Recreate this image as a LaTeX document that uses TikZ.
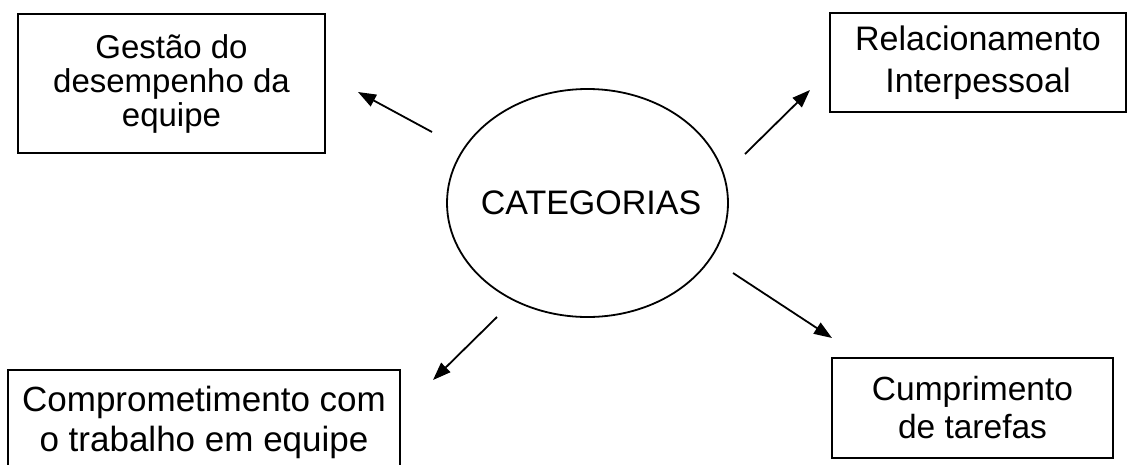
\documentclass[tikz,border=0pt]{standalone}
\usepackage{fontspec}
\setmainfont{Liberation Sans}
\usetikzlibrary{arrows.meta,shapes.geometric}
\tikzset{
  catbox/.style={draw, line width=1.8pt, align=center, inner sep=0pt},
  catarrow/.style={line width=1.8pt, -{Triangle[length=18pt,width=13pt]}},
}
\begin{document}
\begin{tikzpicture}[x=1pt,y=-1pt]
\useasboundingbox (0,0) rectangle (1128,464);
\node[catbox, minimum width=307pt, minimum height=139pt, font=\fontsize{33}{34}\selectfont] (gestao) at (171.5,83.5) {Gestão do\\desempenho da\\equipe};
\node[catbox, minimum width=296pt, minimum height=99pt, font=\fontsize{34}{42}\selectfont] (relac) at (978,62.5) {Relacionamento\\Interpessoal};
\node[catbox, minimum width=392pt, minimum height=104pt, font=\fontsize{35}{40}\selectfont] (compr) at (204,422) {Comprometimento com\\o trabalho em equipe};
\node[catbox, minimum width=281pt, minimum height=100pt, font=\fontsize{33.5}{38}\selectfont] (cumpr) at (972.5,408) {Cumprimento\\de tarefas};
\node[draw, ellipse, line width=1.8pt, minimum width=281pt, minimum height=228pt, inner sep=0pt,
  label={[anchor=base, xshift=3.5pt, font=\fontsize{34}{36}\selectfont]center:CATEGORIAS}] (cat) at (587.5,203) {};
\coordinate (a1s) at (432,132); \coordinate (a1e) at (358,92);
\coordinate (a2s) at (745,154); \coordinate (a2e) at (810,90);
\coordinate (a3s) at (733,273); \coordinate (a3e) at (832,338);
\coordinate (a4s) at (497,317); \coordinate (a4e) at (433,380);
\draw[catarrow] (a1s) -- (a1e);
\draw[catarrow] (a2s) -- (a2e);
\draw[catarrow] (a3s) -- (a3e);
\draw[catarrow] (a4s) -- (a4e);
\end{tikzpicture}
\end{document}
